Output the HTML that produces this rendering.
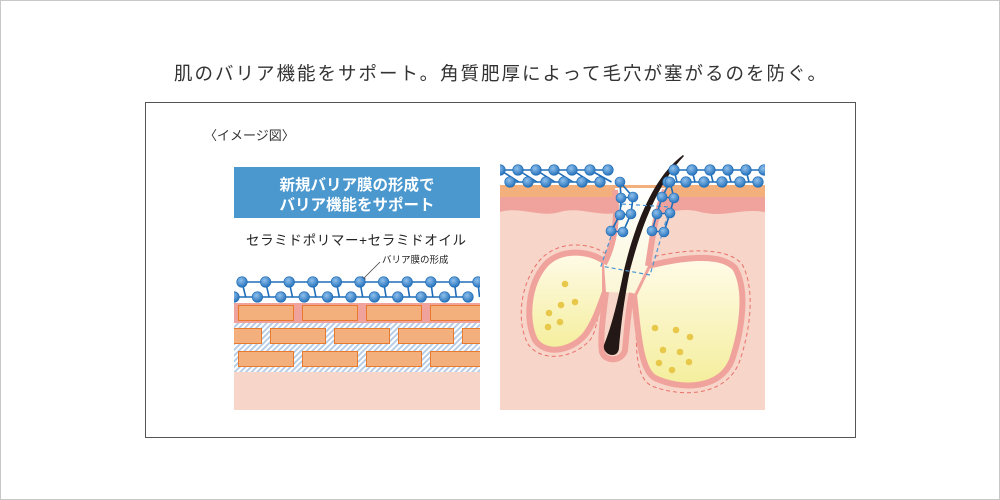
<!DOCTYPE html>
<html><head><meta charset="utf-8"><style>
html,body{margin:0;padding:0;background:#fff}
svg{display:block}
text{font-family:"Liberation Sans","Noto Sans CJK JP",sans-serif}
</style></head><body>
<svg id="s" width="1000" height="500" viewBox="0 0 1000 500" xmlns="http://www.w3.org/2000/svg">
<defs>
<pattern id="hatch" width="4" height="4" patternUnits="userSpaceOnUse" patternTransform="rotate(-45)">
<rect width="4" height="4" fill="#fff"/><rect width="4" height="2" fill="#b7cde6"/></pattern>
<radialGradient id="ball" cx="0.4" cy="0.35" r="0.7"><stop offset="0" stop-color="#8fc0ec"/><stop offset="1" stop-color="#1f6db8"/></radialGradient>
<linearGradient id="gland" x1="0" y1="0" x2="0" y2="1"><stop offset="0" stop-color="#fffbe8"/><stop offset="1" stop-color="#f4ee9c"/></linearGradient>
<linearGradient id="pore" x1="0" y1="0" x2="0" y2="1"><stop offset="0" stop-color="#ffffff"/><stop offset="1" stop-color="#fbf6d6"/></linearGradient>
<clipPath id="cl"><rect x="234" y="270" width="246" height="140"/></clipPath>
<clipPath id="cr"><rect x="500" y="150" width="265" height="260"/></clipPath>
</defs>
<rect x="0.5" y="0.5" width="999" height="499" fill="#fff" stroke="#c8c8c8"/>
<text x="174" y="80" font-size="18.5" fill="#333" textLength="652" lengthAdjust="spacing">肌のバリア機能をサポート。角質肥厚によって毛穴が塞がるのを防ぐ。</text>
<rect x="145.5" y="102.5" width="710" height="335" fill="#fff" stroke="#555"/>
<text x="204" y="140" font-size="13" fill="#333">〈イメージ図〉</text>

<!-- left panel -->
<rect x="234" y="167" width="246" height="51" fill="#4b98cf"/>
<text x="357" y="190" font-size="15.5" font-weight="bold" fill="#fff" text-anchor="middle">新規バリア膜の形成で</text>
<text x="357" y="210" font-size="15.5" font-weight="bold" fill="#fff" text-anchor="middle">バリア機能をサポート</text>
<text x="356" y="245" font-size="13.5" fill="#222" text-anchor="middle" textLength="220" lengthAdjust="spacing">セラミドポリマー+セラミドオイル</text>
<text x="382" y="263" font-size="9.5" fill="#222">バリア膜の形成</text>
<line x1="380" y1="262" x2="363" y2="279" stroke="#444" stroke-width="0.8"/>
<polygon points="361,282 362,276 366,279" fill="#444"/>
<g clip-path="url(#cl)">
<rect x="234" y="303" width="246" height="20" fill="#f0a39c"/>
<rect x="234" y="323" width="246" height="49" fill="url(#hatch)"/>
<rect x="234" y="372" width="246" height="38" fill="#f7d5c9"/>
<g fill="#f4b07c" stroke="#e9792c" stroke-width="1">
<rect x="238.5" y="305.5" width="55" height="15"/><rect x="302.5" y="305.5" width="55" height="15"/><rect x="366.5" y="305.5" width="55" height="15"/><rect x="430.5" y="305.5" width="55" height="15"/>
<rect x="206.5" y="328.5" width="55" height="15"/><rect x="270.5" y="328.5" width="55" height="15"/><rect x="334.5" y="328.5" width="55" height="15"/><rect x="398.5" y="328.5" width="55" height="15"/><rect x="462.5" y="328.5" width="55" height="15"/>
<rect x="238.5" y="351.5" width="55" height="15"/><rect x="302.5" y="351.5" width="55" height="15"/><rect x="366.5" y="351.5" width="55" height="15"/><rect x="430.5" y="351.5" width="55" height="15"/>
</g>
<g id="chainL"></g>
</g>

<!-- right panel -->
<g clip-path="url(#cr)">
<rect x="500" y="150" width="265" height="260" fill="#f7d5c9"/>
<rect x="500" y="150" width="265" height="35" fill="#fff"/>
<path d="M500,185 H765 V212 C740,208 725,218 700,212 C680,206 665,216 650,212 L620,212 C600,218 580,206 560,212 C540,218 520,206 500,212 Z" fill="#f0a39c"/>
<rect x="500" y="185" width="265" height="12" fill="#f4b07c"/>
<!-- dashed outlines -->
<g fill="none" stroke="#e9716b" stroke-width="1" stroke-dasharray="4,3">
<path d="M606,254 C590,242 558,240 540,260 C520,283 516,322 528,344 C540,362 572,360 590,340 C596,332 598,318 600,300"/>
<path d="M648,258 C680,250 725,245 742,264 C756,290 750,332 739,363 C725,396 682,398 652,386 C634,378 635,340 638,300"/>
</g>
<!-- glands -->
<path d="M605,262 C590,250 560,248 545,265 C528,285 525,320 535,340 C545,355 570,352 585,335 C595,322 600,305 605,292 Z" fill="url(#gland)" stroke="#f0a39c" stroke-width="6" stroke-linejoin="round"/>
<path d="M648,266 C680,258 720,252 735,268 C748,290 742,330 732,360 C720,390 680,390 655,378 C640,370 638,330 634,295 Z" fill="url(#gland)" stroke="#f0a39c" stroke-width="6" stroke-linejoin="round"/>
<!-- pore -->
<path d="M615,188 C618,220 614,245 604,264 L606,292 L634,295 L648,266 C652,240 655,215 665,188 Z" fill="url(#pore)"/>
<path d="M615,190 C618,220 614,245 604,264" fill="none" stroke="#f0a39c" stroke-width="6"/>
<path d="M665,190 C655,215 652,240 648,266" fill="none" stroke="#f0a39c" stroke-width="6"/>
<!-- sheath -->
<path d="M606,292 C603,315 600,340 602,352 C605,362 622,362 625,350 C627,330 628,310 632,293" fill="#f7d5c9" stroke="#f0a39c" stroke-width="6"/>
<!-- hair -->
<path d="M683,155 C652,178 634,228 624,270 C618,300 612,325 604,345 C602,355 618,360 619,348 C621,325 624,300 630,270 C642,225 657,185 684,156 Z" fill="#231815"/>
<!-- oil plug dashed blue -->
<g fill="none" stroke="#4a96d4" stroke-width="1.2" stroke-dasharray="4,3">
<path d="M622,204 L670,207 L650,275 L601,266 Z"/>
</g>
<g id="chainR"></g>
</g>
<g fill="#e8c84a">
<circle cx="565" cy="284" r="3.3"/><circle cx="561" cy="305" r="3.3"/><circle cx="575" cy="302" r="3.3"/><circle cx="549" cy="313" r="3.3"/><circle cx="560" cy="322" r="3.3"/><circle cx="548" cy="327" r="3.3"/>
<circle cx="655" cy="328" r="3.3"/><circle cx="676" cy="330" r="3.3"/><circle cx="690" cy="337" r="3.3"/><circle cx="663" cy="350" r="3.3"/><circle cx="680" cy="352" r="3.3"/><circle cx="659" cy="363" r="3.3"/><circle cx="672" cy="370" r="3.3"/><circle cx="689" cy="362" r="3.3"/>
</g>
</svg>
<script>
var NS="http://www.w3.org/2000/svg";
function el(p,n,a){var e=document.createElementNS(NS,n);for(var k in a)e.setAttribute(k,a[k]);p.appendChild(e);return e;}
function chain(g,top,bot,yt,yb){
 var pts=[];
 for(var i=0;i<top.length;i++)pts.push([top[i],yt]);
 var bp=[];for(var i=0;i<bot.length;i++)bp.push([bot[i],yb]);
 var d="M"+pts.map(p=>p.join(",")).join(" L");
 el(g,"path",{d:d,stroke:"#1f6db8","stroke-width":"1.6",fill:"none"});
 d="M"+bp.map(p=>p.join(",")).join(" L");
 el(g,"path",{d:d,stroke:"#1f6db8","stroke-width":"1.6",fill:"none"});
 for(var i=0;i<Math.min(top.length,bot.length);i++){
  el(g,"line",{x1:top[i],y1:yt,x2:bot[i]+((bot[i+1]||bot[i]+23)-bot[i])*0.5,y2:yb,stroke:"#1f6db8","stroke-width":"1.6"});
 }
 pts.concat(bp).forEach(p=>el(g,"circle",{cx:p[0],cy:p[1],r:5.3,fill:"url(#ball)",stroke:"#1f6db8","stroke-width":"0.6"}));
}
var gl=document.getElementById("chainL");
var t=[],b=[];for(var i=0;i<11;i++){t.push(242+23.6*i);b.push(234+23.4*i);}
chain(gl,t,b,282,297);
var gr=document.getElementById("chainR");
chain(gr,[500,518,536,554,572,590,608],[510,528,546,564,582,600],170,182);
chain(gr,[674,692,710,728,746,764],[668,686,704,722,740,758],170,182);
function cube(g,pts,links){links.forEach(l=>el(g,"line",{x1:pts[l[0]][0],y1:pts[l[0]][1],x2:pts[l[1]][0],y2:pts[l[1]][1],stroke:"#1f6db8","stroke-width":"1.6"}));pts.forEach(p=>el(g,"circle",{cx:p[0],cy:p[1],r:5,fill:"url(#ball)",stroke:"#1f6db8","stroke-width":"0.6"}));}
cube(gr,[[620,182],[621,198],[633,197],[620,215],[631,214],[611,231],[623,232]],[[0,1],[0,2],[1,2],[1,3],[2,4],[3,4],[3,5],[4,6],[5,6]]);
cube(gr,[[670,182],[662,197],[674,198],[657,214],[670,213],[652,231],[664,232]],[[0,1],[0,2],[1,2],[1,3],[2,4],[3,4],[3,5],[4,6],[5,6]]);
</script>
</body></html>
